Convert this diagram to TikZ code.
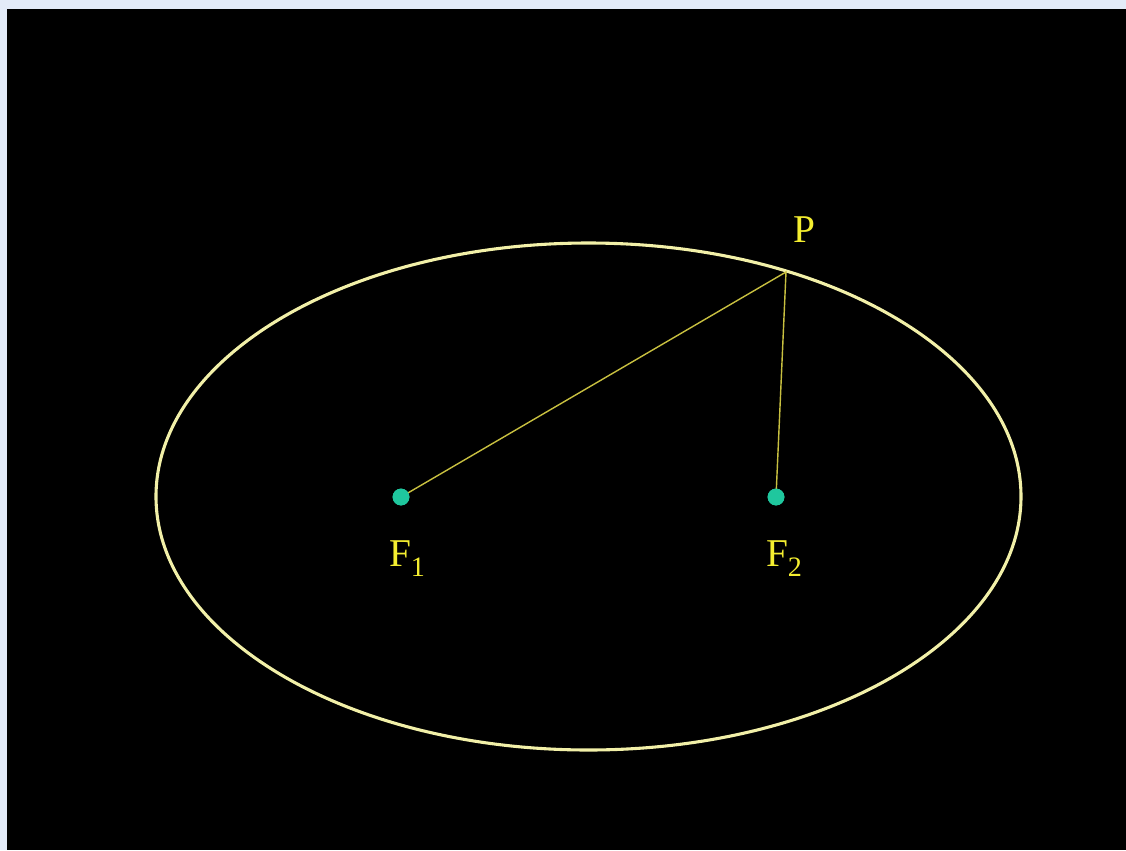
\documentclass[tikz,border=0pt]{standalone}
\usepackage{fontspec}
\setmainfont{Liberation Serif}
\usepackage{tikz}
\usetikzlibrary{positioning}
\definecolor{rahmen}{HTML}{E3EBF8}
\definecolor{bahn}{HTML}{F2F0A8}
\definecolor{strahl}{HTML}{C8C040}
\definecolor{brenn}{HTML}{1FC79E}
\definecolor{schrift}{HTML}{F4EE30}
\begin{document}
\begin{tikzpicture}[x=0.025cm, y=-0.025cm,
			punkt/.style={circle, fill=brenn, inner sep=0pt, minimum size=0.42cm},
			beschr/.style={text=schrift, font=\fontsize{28}{32}\selectfont},
			>=latex]
			%Hintergrund
			\fill[rahmen] (0,0) rectangle (1126,850);
			\fill[black] (7,9) rectangle (1126,850);
			\useasboundingbox (0,0) rectangle (1126,850);
			%Ellipse zeichnen
			\draw[bahn, line width=2.2pt] (588.5,496.5) ellipse [x radius=432.5, y radius=253.5];
			%Punkte
			\coordinate (p) at (786,272);
			\node[punkt] (f1) at (401,497) {};
			\node[punkt] (f2) at (776,497) {};
			%Verbindungen
			\draw[strahl, line width=1pt] (f1.center) -- (p) -- (f2.center);
			\node[punkt] at (f1) {};
			\node[punkt] at (f2) {};
			%Beschriftung
			\node[beschr] (lp) at (804,230) {P};
			\node[beschr, below=0.75cm of f1, xshift=0.15cm] (l1) {F\raisebox{-0.25em}{\fontsize{20}{22}\selectfont 1}};
			\node[beschr, below=0.75cm of f2, xshift=0.2cm] (l2) {F\raisebox{-0.25em}{\fontsize{20}{22}\selectfont 2}};
		\end{tikzpicture}
\end{document}
